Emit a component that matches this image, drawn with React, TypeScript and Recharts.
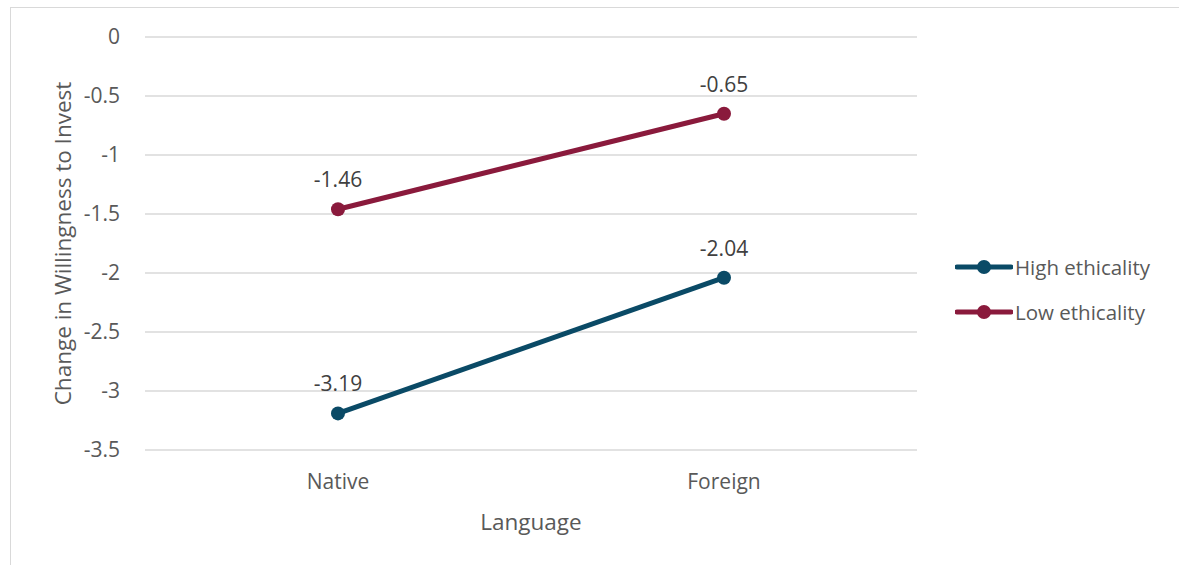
import { LineChart, Line, XAxis, YAxis, CartesianGrid, LabelList } from 'recharts';

const languages = ['Native', 'Foreign'];
const highEthicality = [-3.19, -2.04];
const lowEthicality = [-1.46, -0.65];
const yTicks = [0, -0.5, -1, -1.5, -2, -2.5, -3, -3.5];

const data = languages.map((lang, i) => ({
  lang,
  high: highEthicality[i],
  low: lowEthicality[i],
}));

const HIGH = '#0A4A66';
const LOW = '#8A1A3C';
const FONT = '"Open Sans", sans-serif';

const YTitle = ({ viewBox }: any) => {
  const cx = viewBox.x + 22;
  const cy = viewBox.y + viewBox.height / 2;
  return (
    <text x={cx} y={cy} transform={`rotate(-90, ${cx}, ${cy})`} textAnchor="middle" dominantBaseline="central"
      fill="#595959" fontSize={22.5} fontFamily={FONT}>
      Change in Willingness to Invest
    </text>
  );
};

const XTitle = ({ viewBox }: any) => {
  const cx = viewBox.x + viewBox.width / 2;
  return (
    <text x={cx} y={viewBox.y + 71} textAnchor="middle" dominantBaseline="central"
      fill="#595959" fontSize={22.5} fontFamily={FONT}>
      Language
    </text>
  );
};

const legendItems = [
  { name: 'High ethicality', color: HIGH },
  { name: 'Low ethicality', color: LOW },
];

const LegendBox = () => (
  <div style={{ position: 'absolute', left: 955, top: 244, fontFamily: FONT, fontSize: 20.5, color: '#595959' }}>
    {legendItems.map((it) => (
      <div key={it.name} style={{ display: 'flex', alignItems: 'center', height: 45 }}>
        <svg width={58} height={16} style={{ marginRight: 2 }}>
          <line x1={2} y1={8} x2={56} y2={8} stroke={it.color} strokeWidth={5} strokeLinecap="round" />
          <circle cx={29} cy={8} r={7} fill={it.color} />
        </svg>
        <span>{it.name}</span>
      </div>
    ))}
  </div>
);

export default function App() {
  return (
    <div style={{ position: 'fixed', inset: 0, overflow: 'hidden', background: '#fff' }}>
      <div style={{ position: 'absolute', left: 10, top: 7, width: 1200, height: 600, border: '1.5px solid #d9d9d9' }} />
      <div style={{ position: 'absolute', left: 0, top: 0 }}>
        <LineChart width={1179} height={565} data={data} margin={{ top: 37, right: 262, bottom: 15, left: 40 }}>
          <CartesianGrid vertical={false} stroke="#d9d9d9" strokeWidth={1.5} />
          <XAxis dataKey="lang" padding={{ left: 193, right: 193 }} axisLine={false} tickLine={false}
            tickSize={0} tickMargin={24} height={100}
            tick={{ fontSize: 21, fill: '#595959', fontFamily: FONT }} label={{ content: <XTitle /> }} />
          <YAxis domain={[-3.5, 0]} ticks={yTicks} axisLine={false} tickLine={false} width={105}
            tickSize={0} tickMargin={25} interval={0}
            tick={{ fontSize: 21, fill: '#595959', fontFamily: FONT }} label={{ content: <YTitle /> }} />
          <Line dataKey="high" name="High ethicality" stroke={HIGH} strokeWidth={5}
            dot={{ r: 7, fill: HIGH, stroke: HIGH, strokeWidth: 0 }} isAnimationActive={false}>
            <LabelList dataKey="high" position="top" offset={22} fill="#404040" fontSize={21} fontFamily={FONT} />
          </Line>
          <Line dataKey="low" name="Low ethicality" stroke={LOW} strokeWidth={5}
            dot={{ r: 7, fill: LOW, stroke: LOW, strokeWidth: 0 }} isAnimationActive={false}>
            <LabelList dataKey="low" position="top" offset={22} fill="#404040" fontSize={21} fontFamily={FONT} />
          </Line>
        </LineChart>
      </div>
      <LegendBox />
    </div>
  );
}
